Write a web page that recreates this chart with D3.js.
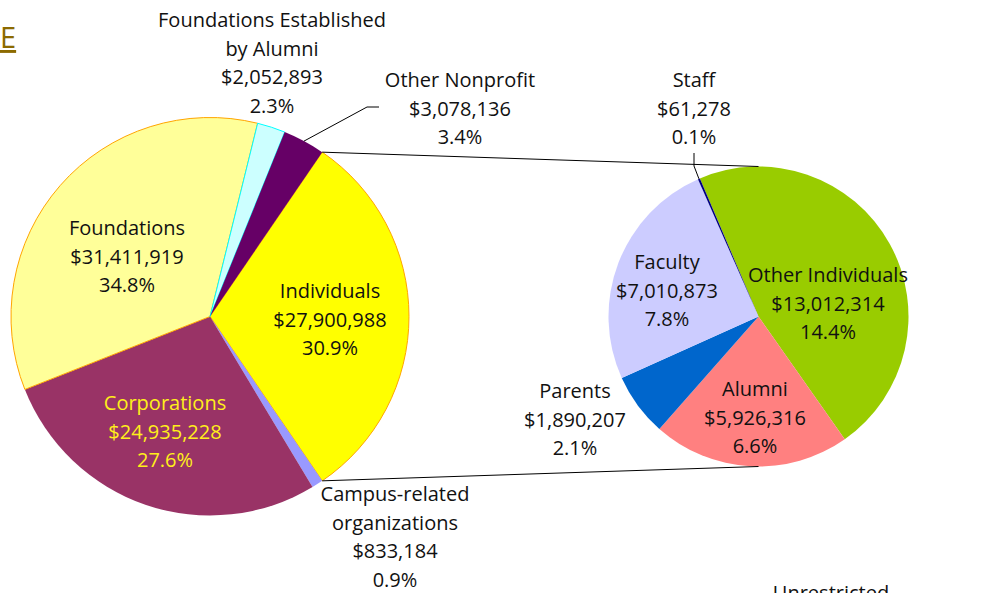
<!DOCTYPE html>
<html>
<head>
<meta charset="utf-8">
<script src="https://cdn.jsdelivr.net/npm/d3@7"></script>
<style>
  html, body { margin: 0; padding: 0; background: #fff; }
  svg { display: block; }
  text { font-family: "Open Sans", "Noto Sans", sans-serif; }
</style>
</head>
<body>
<svg id="chart" width="1005" height="593"></svg>
<script>
// Gift sources — primary pie (Individuals is broken out in the secondary pie)
const sourceNames = ["Individuals", "Campus-related organizations", "Corporations",
                     "Foundations", "Foundations Established by Alumni", "Other Nonprofit"];
const sourceValues = [27900988, 833184, 24935228, 31411919, 2052893, 3078136];
const sourcePercents = ["30.9%", "0.9%", "27.6%", "34.8%", "2.3%", "3.4%"];

// Individuals broken down — secondary pie
const individualNames = ["Other Individuals", "Alumni", "Parents", "Faculty", "Staff"];
const individualValues = [13012314, 5926316, 1890207, 7010873, 61278];
const individualPercents = ["14.4%", "6.6%", "2.1%", "7.8%", "0.1%"];

// Label line breaks
const sourceLabelLines = [["Individuals"], ["Campus-related", "organizations"], ["Corporations"],
                          ["Foundations"], ["Foundations Established", "by Alumni"], ["Other Nonprofit"]];
const individualLabelLines = [["Other Individuals"], ["Alumni"], ["Parents"], ["Faculty"], ["Staff"]];

// Styling
const sourceFill   = ["#FFFF00", "#9999FF", "#993366", "#FFFF99", "#CCFFFF", "#660066"];
const sourceStroke = ["#FFA500", "none", "none", "#FFA500", "#00FFFF", "none"];
const sourceText   = ["#111", "#111", "#FFEF1A", "#111", "#111", "#111"];
const individualFill = ["#99CC00", "#FF8080", "#0066CC", "#CCCCFF", "#000080"];

// Layout
const main = { cx: 210, cy: 316.5, r: 199 };
const second = { cx: 758.5, cy: 316.5, r: 150 };
const lineH = 28.5, fontSize = 20;

// Label anchor points (centre of the first text line)
const sourceLabelPos = [[330, 291], [395, 494], [165, 403], [127, 228], [272, 20], [460, 80]];
const individualLabelPos = [[828, 275], [755, 389], [575, 391], [667, 262], [694, 80]];

const svg = d3.select("#chart");
const fmt = d3.format("$,");

// Primary pie: Individuals slice centred at 3 o'clock
const total = d3.sum(sourceValues);
const indivSpan = sourceValues[0] / total * 2 * Math.PI;
const mainStart = Math.PI / 2 - indivSpan / 2;
const mainPie = d3.pie().sort(null).value(d => d).startAngle(mainStart).endAngle(mainStart + 2 * Math.PI);
const mainArcs = mainPie(sourceValues);
const mainArc = d3.arc().innerRadius(0).outerRadius(main.r);

const gMain = svg.append("g").attr("transform", `translate(${main.cx},${main.cy})`);
gMain.selectAll("path").data(mainArcs).join("path")
  .attr("d", mainArc)
  .attr("fill", (d, i) => sourceFill[i])
  .attr("stroke", (d, i) => sourceStroke[i])
  .attr("stroke-width", 1);

// Secondary pie
const secStart = -23 * Math.PI / 180;
const secPie = d3.pie().sort(null).value(d => d).startAngle(secStart).endAngle(secStart + 2 * Math.PI);
const secArcs = secPie(individualValues);
const secArc = d3.arc().innerRadius(0).outerRadius(second.r);
const gSec = svg.append("g").attr("transform", `translate(${second.cx},${second.cy})`);
gSec.selectAll("path").data(secArcs).join("path")
  .attr("d", secArc)
  .attr("fill", (d, i) => individualFill[i]);

// Connector lines from the Individuals slice edges to the secondary pie
const pt = (c, r, a) => [c.cx + r * Math.sin(a), c.cy - r * Math.cos(a)];
const indiv = mainArcs[0];
const connectors = [
  [pt(main, main.r, indiv.startAngle), [second.cx, second.cy - second.r]],
  [pt(main, main.r, indiv.endAngle), [second.cx, second.cy + second.r]]
];
svg.selectAll("line.connector").data(connectors).join("line")
  .attr("class", "connector")
  .attr("x1", d => d[0][0]).attr("y1", d => d[0][1])
  .attr("x2", d => d[1][0]).attr("y2", d => d[1][1])
  .attr("stroke", "#000").attr("stroke-width", 1);

// Leader lines
const onMid = (c, a) => pt(c, c.r, (a.startAngle + a.endAngle) / 2);
const leaders = [
  [onMid(main, mainArcs[5]), [367, 107], [379, 107]],
  [onMid(second, secArcs[4]), [694, 166], [694, 153]]
];
svg.selectAll("path.leader").data(leaders).join("path")
  .attr("class", "leader")
  .attr("d", d => d3.line()(d))
  .attr("fill", "none").attr("stroke", "#000").attr("stroke-width", 1);

// Labels
function drawLabel(lines, pos, color) {
  const t = svg.append("text")
    .attr("text-anchor", "middle")
    .attr("font-size", fontSize)
    .attr("fill", color);
  lines.forEach((s, k) => {
    t.append("tspan").attr("x", pos[0]).attr("y", pos[1] + k * lineH).attr("dy", "0.35em").text(s);
  });
}
sourceNames.forEach((n, i) => {
  drawLabel([...sourceLabelLines[i], fmt(sourceValues[i]), sourcePercents[i]], sourceLabelPos[i], sourceText[i]);
});
individualNames.forEach((n, i) => {
  drawLabel([...individualLabelLines[i], fmt(individualValues[i]), individualPercents[i]], individualLabelPos[i], "#111");
});

// Header letter and next section title
svg.append("text").attr("x", 0).attr("y", 48).attr("font-size", 29)
  .attr("fill", "#8C6A00").attr("text-decoration", "underline").text("E");
svg.append("text").attr("x", 831).attr("y", 600).attr("text-anchor", "middle")
  .attr("font-size", fontSize).attr("fill", "#111").text("Unrestricted");
</script>
</body>
</html>
